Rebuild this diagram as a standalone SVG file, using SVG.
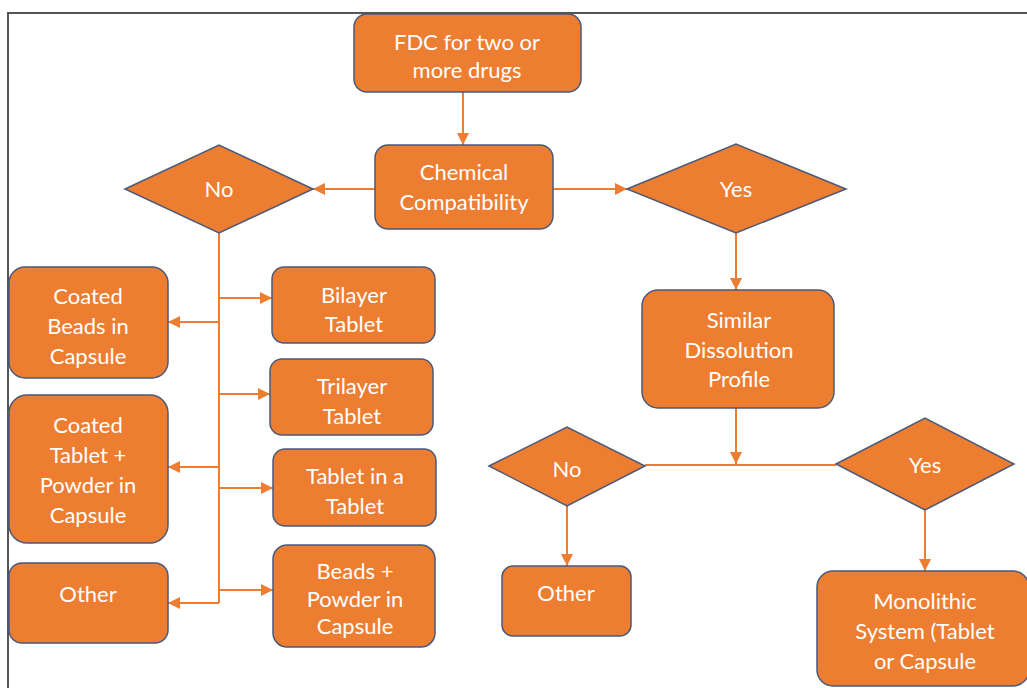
<svg xmlns="http://www.w3.org/2000/svg" width="1027" height="688" viewBox="0 0 1027 688">
<defs>
<style>
.n{fill:#ED7D31;stroke:#4A5A7A;stroke-width:1.5}
.t{fill:#FFFFFF;font-family:Lato,"Open Sans","Liberation Sans",sans-serif;font-size:22px;text-anchor:middle}
.c{fill:none;stroke:#ED7D31;stroke-width:2}
.f{fill:none;stroke:#555555;stroke-width:2}
</style>
<marker id="a" viewBox="0 0 12 12" refX="12" refY="6" markerWidth="12" markerHeight="12" markerUnits="userSpaceOnUse" orient="auto">
<path d="M0,0 L12,6 L0,12 z" fill="#ED7D31"/>
</marker>
</defs>
<rect width="1027" height="688" fill="#FFFFFF"/>
<path class="f" d="M8,688 V13 H1027"/>
<g id="connectors">
<path class="c" d="M463,92 V145" marker-end="url(#a)"/>
<path class="c" d="M375,189 H313" marker-end="url(#a)"/>
<path class="c" d="M553,189 H627" marker-end="url(#a)"/>
<path class="c" d="M736,233 V290" marker-end="url(#a)"/>
<path class="c" d="M219,233 V603"/>
<path class="c" d="M219,322 H168" marker-end="url(#a)"/>
<path class="c" d="M219,467 H168" marker-end="url(#a)"/>
<path class="c" d="M219,603 H168" marker-end="url(#a)"/>
<path class="c" d="M219,298 H272" marker-end="url(#a)"/>
<path class="c" d="M219,394 H270" marker-end="url(#a)"/>
<path class="c" d="M219,488 H273" marker-end="url(#a)"/>
<path class="c" d="M219,590 H273" marker-end="url(#a)"/>
<path class="c" d="M736,408 V464" marker-end="url(#a)"/>
<path class="c" d="M645,465 H836"/>
<path class="c" d="M567,506 V566" marker-end="url(#a)"/>
<path class="c" d="M925,510 V571" marker-end="url(#a)"/>
</g>
<g id="fdc"><rect class="n" x="354" y="14" width="227" height="78" rx="13"/>
<text class="t" x="467" y="50">FDC for two or</text><text class="t" x="467" y="78">more drugs</text></g>
<g id="chem"><rect class="n" x="375" y="145" width="178" height="84" rx="13"/>
<text class="t" x="464" y="180">Chemical</text><text class="t" x="464" y="210">Compatibility</text></g>
<g id="no1"><polygon class="n" points="125,189 219,145 313,189 219,233"/>
<text class="t" x="219" y="197">No</text></g>
<g id="yes1"><polygon class="n" points="627,189 736,144 846,189 736,233"/>
<text class="t" x="736" y="197">Yes</text></g>
<g id="similar"><rect class="n" x="642" y="290" width="192" height="118" rx="16"/>
<text class="t" x="739" y="328">Similar</text><text class="t" x="739" y="358">Dissolution</text><text class="t" x="739" y="387">Profile</text></g>
<g id="no2"><polygon class="n" points="489,466 567,427 645,466 567,506"/>
<text class="t" x="567" y="477">No</text></g>
<g id="yes2"><polygon class="n" points="836,464 925,418 1014,464 925,510"/>
<text class="t" x="925" y="473">Yes</text></g>
<g id="other2"><rect class="n" x="502" y="566" width="129" height="70" rx="11"/>
<text class="t" x="566" y="601">Other</text></g>
<g id="mono"><rect class="n" x="817" y="571" width="212" height="115" rx="16"/>
<text class="t" x="925" y="609">Monolithic</text><text class="t" x="925" y="639">System (Tablet</text><text class="t" x="925" y="669">or Capsule</text></g>
<g id="coatedbeads"><rect class="n" x="9" y="267" width="159" height="111" rx="16"/>
<text class="t" x="88" y="304">Coated</text><text class="t" x="88" y="334">Beads in</text><text class="t" x="88" y="364">Capsule</text></g>
<g id="coatedtablet"><rect class="n" x="9" y="395" width="159" height="148" rx="18"/>
<text class="t" x="88" y="433">Coated</text><text class="t" x="88" y="463">Tablet +</text><text class="t" x="88" y="493">Powder in</text><text class="t" x="88" y="523">Capsule</text></g>
<g id="other1"><rect class="n" x="9" y="563" width="159" height="80" rx="13"/>
<text class="t" x="88" y="602">Other</text></g>
<g id="bilayer"><rect class="n" x="272" y="267" width="163" height="76" rx="12"/>
<text class="t" x="354" y="303">Bilayer</text><text class="t" x="354" y="332">Tablet</text></g>
<g id="trilayer"><rect class="n" x="270" y="359" width="163" height="76" rx="12"/>
<text class="t" x="352" y="394">Trilayer</text><text class="t" x="352" y="424">Tablet</text></g>
<g id="tabletintablet"><rect class="n" x="273" y="449" width="163" height="77" rx="12"/>
<text class="t" x="355" y="484">Tablet in a</text><text class="t" x="355" y="514">Tablet</text></g>
<g id="beadspowder"><rect class="n" x="273" y="545" width="162" height="102" rx="14"/>
<text class="t" x="355" y="579">Beads +</text><text class="t" x="355" y="607">Powder in</text><text class="t" x="355" y="634">Capsule</text></g>
</svg>
